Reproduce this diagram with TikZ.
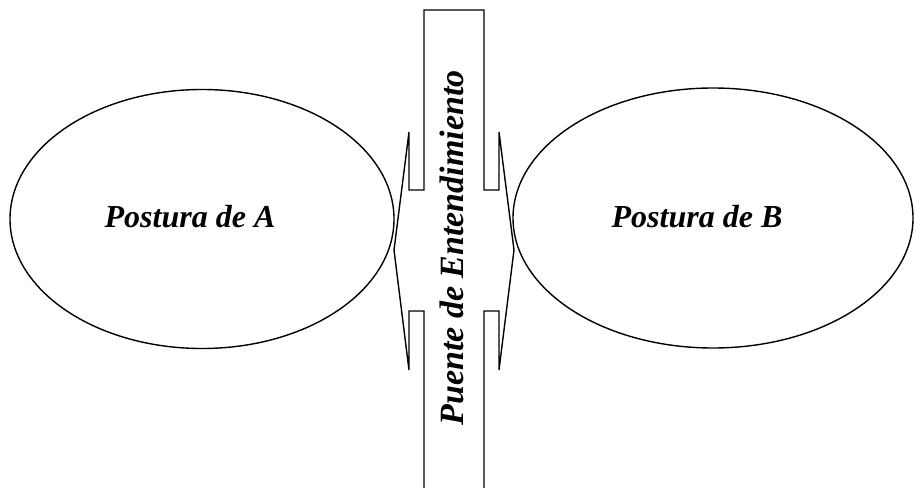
\documentclass[tikz,border=0pt]{standalone}
\usepackage{fontspec}
\setmainfont{Liberation Serif}
\usetikzlibrary{shapes.geometric}
\begin{document}
\begin{tikzpicture}[x=1pt,y=-1pt,
  outline/.style={draw=black,line width=1.4pt,line join=miter},
  posture/.style={ellipse,draw=black,line width=1.4pt,inner sep=0pt},
  lbl/.style={font=\fontsize{32}{38}\selectfont\bfseries\itshape,inner sep=0pt,anchor=base}]
\useasboundingbox (0,0) rectangle (915,487);
\node[posture,minimum width=384pt,minimum height=259pt] (ea) at (202,219) {};
\node[posture,minimum width=400pt,minimum height=260pt] (eb) at (713,218) {};
\node[lbl] (ta) at (190,227) {Postura de A};
\node[lbl] (tb) at (697,227) {Postura de B};
\draw[outline] (424,495) -- (424,311) -- (409,311) -- (409,370) -- (394,250) -- (409,132) -- (409,190) -- (424,190) -- (424,10)
  -- (484,10) -- (484,190) -- (499,190) -- (499,132) -- (514,250) -- (499,370) -- (499,311) -- (484,311) -- (484,495);
\node[lbl,rotate=90,font=\fontsize{34}{40}\selectfont\bfseries\itshape] (tc) at (463,248) {Puente de Entendimiento};
\end{tikzpicture}
\end{document}
